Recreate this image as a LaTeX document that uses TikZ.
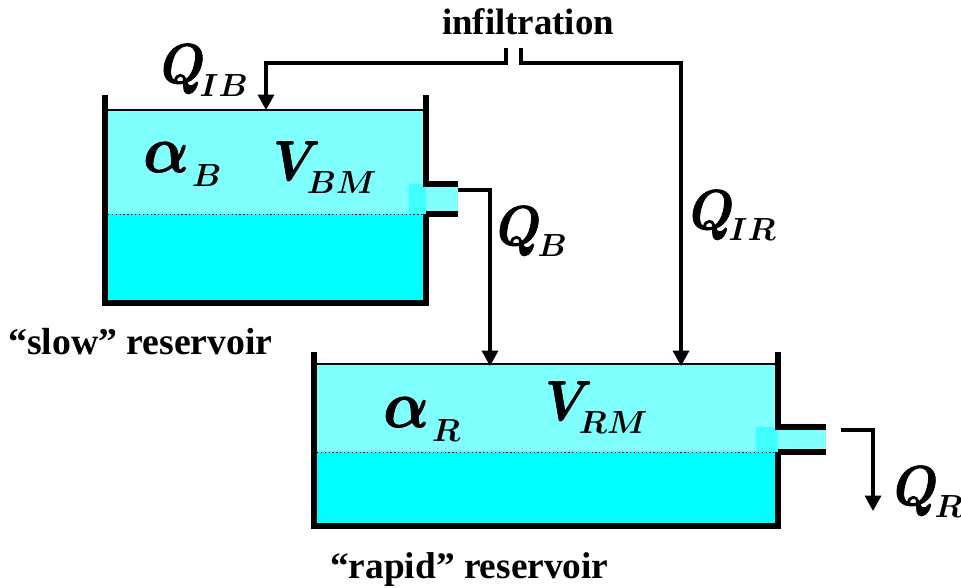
\documentclass[tikz,border=0pt]{standalone}
\usepackage{fix-cm}
\usepackage{amsmath}
\usepackage{fontspec}
\setmainfont{Liberation Serif}
\usepackage{tikz}
\usetikzlibrary{arrows.meta, positioning, calc}
\definecolor{airblue}{HTML}{80FFFF}
\definecolor{patchblue}{HTML}{40FFFF}
\definecolor{waterblue}{HTML}{00FFFF}
\newcommand{\heavy}[1]{\special{pdf:code 2 Tr 0.7 w}#1\special{pdf:code 0 Tr}}
\newcommand{\symb}[5][-4pt]{\scalebox{0.9}[1]{\fontsize{#2}{#2}\selectfont\heavy{$\boldsymbol{#3}$}}%
  \kern#1\lower#4\hbox{\fontsize{24}{24}\selectfont$\boldsymbol{#5}$}}
\tikzset{
  air/.style    ={fill=airblue, inner sep=0pt, anchor=north west},
  water/.style  ={fill=waterblue, inner sep=0pt, anchor=north west},
  patch/.style  ={fill=patchblue, inner sep=0pt, anchor=north west, minimum height=30*0.75pt},
  wall/.style   ={line width=4.6pt, line cap=rect},
  pipewall/.style={line width=4.6pt},
  level/.style  ={line width=0.9pt, dotted},
  surface/.style={line width=1.3pt},
  arr/.style    ={-{Triangle[length=11.5pt, width=12pt]}, line width=2.5pt, line join=miter},
  lbl/.style    ={font=\fontsize{27.6}{30}\selectfont\bfseries, inner sep=0pt, anchor=base west},
  sym/.style    ={inner sep=0pt, anchor=base west},
}
\begin{document}
\begin{tikzpicture}[x=0.75pt, y=-0.75pt]
  \useasboundingbox (0,0) rectangle (961,588);

  % slow reservoir
  \node[air, minimum width=315*0.75pt, minimum height=104*0.75pt] at (108,110) (slowair) {};
  \node[water, minimum width=315*0.75pt, minimum height=86*0.75pt] at (108,214) (slowwater) {};
  \node[patch, minimum width=17*0.75pt] at (409,184) (slowpatch) {};
  \node[air, minimum width=32*0.75pt, minimum height=24*0.75pt] at (426,187) (slowpipe) {};
  \draw[surface] (slowair.north west) -- (slowair.north east);
  \draw[level] (slowair.south west) -- (slowair.south east);
  \draw[wall] (105,98) -- (105,303) -- (426,303) -- (426,217);
  \draw[wall] (426,184) -- (426,98);
  \draw[pipewall] (426,184) -- (458,184);
  \draw[pipewall] (426,214) -- (458,214);

  % rapid reservoir
  \node[air, minimum width=461*0.75pt, minimum height=88*0.75pt] at (317,364) (rapidair) {};
  \node[water, minimum width=461*0.75pt, minimum height=72*0.75pt] at (317,452) (rapidwater) {};
  \node[patch, minimum width=22*0.75pt, minimum height=25*0.75pt] at (756,427) (rapidpatch) {};
  \node[air, minimum width=48*0.75pt, minimum height=19*0.75pt] at (778,430) (rapidpipe) {};
  \draw[surface] (rapidair.north west) -- (rapidair.north east);
  \draw[level] (rapidair.south west) -- (rapidair.south east);
  \draw[wall] (314,355) -- (314,526) -- (778,526) -- (778,455);
  \draw[wall] (778,427) -- (778,355);
  \draw[pipewall] (778,427) -- (826,427);
  \draw[pipewall] (778,452) -- (826,452);

  % flows
  \coordinate (inleft) at (506,48);
  \coordinate (inright) at (521,48);
  \coordinate (outslow) at (458,190);
  \coordinate (outrapid) at (841,430);
  \coordinate (outend) at (873,511);
  \draw[arr] (inleft) |- (266,63) -- (266,110);
  \draw[arr] (inright) |- (681,63) -- (681,366);
  \draw[arr] (outslow) -| (490,366);
  \draw[arr] (outrapid) -| (outend);

  % labels
  \node[sym] at (161,83) (qib) {\symb{42}{Q}{10pt}{IB}};
  \node[sym] at (143,172) (alphab) {\symb[2.5pt]{50}{\alpha}{11pt}{B}};
  \node[sym] at (497,245) (qb) {\symb[-2.5pt]{42}{Q}{9pt}{B}};
  \node[sym] at (273,180) (vbm) {\symb[-10pt]{42}{V}{10pt}{BM}};
  \node[sym] at (690,229) (qir) {\symb{42}{Q}{9pt}{IR}};
  \node[sym] at (383,427) (alphar) {\symb[2.5pt]{50}{\alpha}{11pt}{R}};
  \node[sym] at (894,505) (qr) {\symb[-2.5pt]{42}{Q}{9pt}{R}};
  \node[sym] at (545,420) (vrm) {\symb[-10pt]{42}{V}{10pt}{RM}};
  \node[lbl] at (442,35) (infil) {infiltration};
  \node[lbl, font=\fontsize{28.3}{30}\selectfont\bfseries] at (8,354) (slowlbl) {“slow” reservoir};
  \node[lbl, font=\fontsize{28}{30}\selectfont\bfseries] at (330,578) (rapidlbl) {“rapid” reservoir};
\end{tikzpicture}
\end{document}
